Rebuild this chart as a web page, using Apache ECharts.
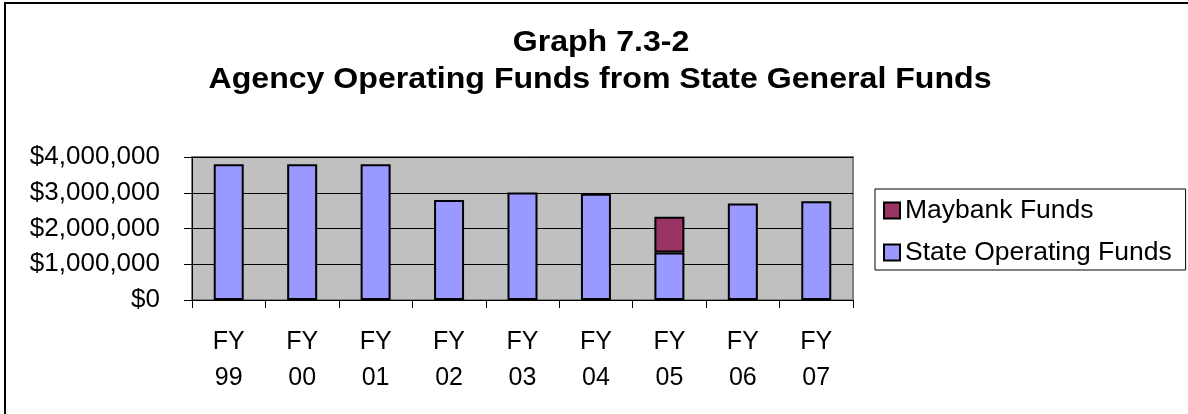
<!DOCTYPE html>
<html>
<head>
<meta charset="utf-8">
<script src="https://cdn.jsdelivr.net/npm/echarts@6/dist/echarts.min.js"></script>
<style>
  html, body { margin: 0; padding: 0; background: #fff; }
  #chart { width: 1188px; height: 414px; }
</style>
</head>
<body>
<div id="chart"></div>
<script>
// data
const categories = ['FY\n99', 'FY\n00', 'FY\n01', 'FY\n02', 'FY\n03', 'FY\n04', 'FY\n05', 'FY\n06', 'FY\n07'];
const stateFunds = [3800000, 3800000, 3800000, 2800000, 3010000, 2970000, 1330000, 2700000, 2760000];
const maybankFunds = [null, null, null, null, null, null, 1000000, null, null];
const yTicks = [0, 1000000, 2000000, 3000000, 4000000];

const font = "'Liberation Sans', Arial, sans-serif";

const chart = echarts.init(document.getElementById('chart'));

// title is a bit wide in the original, so draw it as graphic text stretched on x
const titleStyle = { font: "bold 30px 'Liberation Sans', Arial, sans-serif", fill: '#000', textAlign: 'center', textVerticalAlign: 'middle' };

const option = {
  animation: false,
  backgroundColor: '#fff',
  legend: {
    orient: 'vertical',
    left: 875,
    top: 189,
    data: ['Maybank Funds', 'State Operating Funds'],
    icon: 'rect',
    itemWidth: 16,
    itemHeight: 16,
    itemGap: 15,
    padding: [8, 14, 4, 8],
    borderColor: '#000',
    borderWidth: 1,
    textStyle: { fontFamily: font, fontSize: 26.5, color: '#000' }
  },
  grid: {
    left: 192,
    right: 335,
    top: 157,
    bottom: 114,
    show: true,
    backgroundColor: '#c0c0c0',
    borderColor: '#808080',
    borderWidth: 2
  },
  xAxis: {
    type: 'category',
    data: categories,
    axisLine: { lineStyle: { color: '#000', width: 1 } },
    axisTick: { show: true, length: 8, lineStyle: { color: '#000' } },
    axisLabel: { fontFamily: font, fontSize: 25, color: '#000', lineHeight: 36, margin: 24 }
  },
  yAxis: {
    type: 'value',
    min: yTicks[0],
    max: yTicks[yTicks.length - 1],
    interval: yTicks[1] - yTicks[0],
    axisLine: { show: true, lineStyle: { color: '#000', width: 1 } },
    axisTick: { show: true, length: 8, lineStyle: { color: '#000' } },
    splitLine: { lineStyle: { color: '#000', width: 1 } },
    axisLabel: {
      fontFamily: font, fontSize: 26, color: '#000', margin: 32,
      formatter: v => '$' + v.toLocaleString('en-US')
    }
  },
  series: [
    {
      name: 'State Operating Funds',
      type: 'bar',
      stack: 'funds',
      barWidth: 30,
      data: stateFunds,
      itemStyle: { color: '#9999ff', borderColor: '#000', borderWidth: 2 }
    },
    {
      name: 'Maybank Funds',
      type: 'bar',
      stack: 'funds',
      barWidth: 30,
      data: maybankFunds,
      itemStyle: { color: '#993366', borderColor: '#000', borderWidth: 2 }
    }
  ],
  graphic: [
    { type: 'text', x: 601, y: 43, scaleX: 1.07, style: Object.assign({ text: 'Graph 7.3-2' }, titleStyle) },
    { type: 'text', x: 600, y: 80, scaleX: 1.07, style: Object.assign({ text: 'Agency Operating Funds from State General Funds' }, titleStyle) },
    { type: 'line', shape: { x1: 5, y1: 3, x2: 5, y2: 414 }, style: { stroke: '#000', lineWidth: 2 } },
    { type: 'line', shape: { x1: 4, y1: 3, x2: 1188, y2: 3 }, style: { stroke: '#000', lineWidth: 2 } }
  ]
};

chart.setOption(option);
</script>
</body>
</html>
